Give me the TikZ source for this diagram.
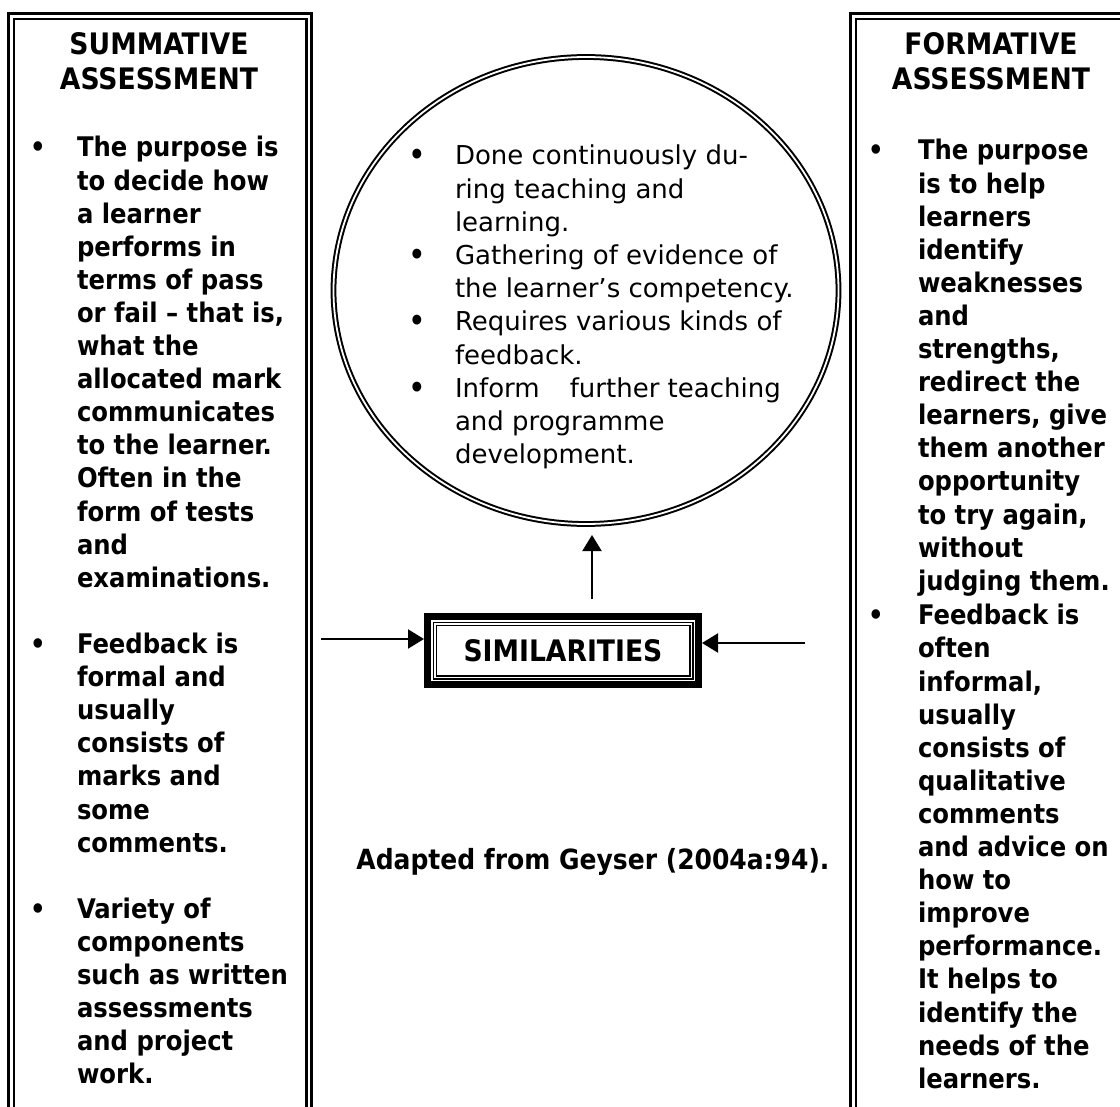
\documentclass[tikz,border=0pt]{standalone}
\usepackage{fontspec}
\setmainfont{DejaVu Sans}
\newfontfamily\bcond{DejaVu Sans Condensed Bold}
\usetikzlibrary{shapes.geometric,arrows.meta}
\newcommand\stack[1]{\vtop{#1}}
\newcommand\Ln[1]{\hbox{#1}}
\newcommand\cstack[1]{\vtop{\halign{\hfil##\hfil\cr#1}}}
\begin{document}
\begin{tikzpicture}[x=0.5pt,y=-0.5pt,
  boldtxt/.style={font=\bcond\fontsize{13.5pt}{16.55pt}\selectfont, inner sep=0pt, outer sep=0pt},
  captxt/.style={font=\bcond\fontsize{14.8pt}{17.5pt}\selectfont, inner sep=0pt, outer sep=0pt},
  regtxt/.style={font=\fontsize{13pt}{16.6pt}\selectfont, inner sep=0pt, outer sep=0pt},
  cbul/.style={font=\bcond\fontsize{14pt}{16.6pt}\selectfont, inner sep=0pt, outer sep=0pt},
  frame/.style={draw, line width=1.3pt, double, double distance=1.3pt},
  conn/.style={line width=1pt, -{Triangle[length=8pt,width=9.5pt]}},
]
\useasboundingbox (0,0) rectangle (1120,1107);
\clip (0,0) rectangle (1120,1107);
% frames
\draw[frame] (11.3,1140) -- (11.3,16.4) -- (309,16.4) -- (309,1140);
\draw[frame] (853.3,1140) -- (853.3,16.4) -- (1150,16.4) -- (1150,1140);
% titles
\node[captxt, anchor=base] (ltitle) at (159,55) {\cstack{SUMMATIVE\cr ASSESSMENT\cr}};
\node[captxt, anchor=base] (rtitle) at (991,55) {\cstack{FORMATIVE\cr ASSESSMENT\cr}};
% left column
\node[boldtxt, anchor=base] (lb1) at (38,157) {•};
\node[boldtxt, anchor=base west] (lt1) at (77,157) {\stack{\Ln{The purpose is}\Ln{to decide how}\Ln{a learner}\Ln{performs in}\Ln{terms of pass}\Ln{or fail – that is,}\Ln{what the}\Ln{allocated mark}\Ln{communicates}\Ln{to the learner.}\Ln{Often in the}\Ln{form of tests}\Ln{and}\Ln{examinations.}}};
\node[boldtxt, anchor=base] (lb2) at (38,653.5) {•};
\node[boldtxt, anchor=base west] (lt2) at (77,653.5) {\stack{\Ln{Feedback is}\Ln{formal and}\Ln{usually}\Ln{consists of}\Ln{marks and}\Ln{some}\Ln{comments.}}};
\node[boldtxt, anchor=base] (lb3) at (38,918.3) {•};
\node[boldtxt, anchor=base west] (lt3) at (77,918.3) {\stack{\Ln{Variety of}\Ln{components}\Ln{such as written}\Ln{assessments}\Ln{and project}\Ln{work.}}};
% right column
\node[boldtxt, anchor=base] (rb1) at (876,160) {•};
\node[boldtxt, anchor=base west] (rt1) at (918,160) {\stack{\Ln{The purpose}\Ln{is to help}\Ln{learners}\Ln{identify}\Ln{weaknesses}\Ln{and}\Ln{strengths,}\Ln{redirect the}\Ln{learners, give}\Ln{them another}\Ln{opportunity}\Ln{to try again,}\Ln{without}\Ln{judging them.}}};
\node[boldtxt, anchor=base] (rb2) at (876,624.8) {•};
\node[boldtxt, anchor=base west] (rt2) at (918,624.8) {\stack{\Ln{Feedback is}\Ln{often}\Ln{informal,}\Ln{usually}\Ln{consists of}\Ln{qualitative}\Ln{comments}\Ln{and advice on}\Ln{how to}\Ln{improve}\Ln{performance.}\Ln{It helps to}\Ln{identify the}\Ln{needs of the}\Ln{learners.}}};
% circle
\node[ellipse, draw, line width=1pt, double, double distance=0.9pt, minimum width=252.5pt, minimum height=233.5pt, inner sep=0pt, outer sep=0pt] (circ) at (586,290.5) {};
\node[cbul, anchor=base] (cb1) at (417,165) {•};
\node[regtxt, anchor=base west] (ct1) at (455,165) {\stack{\Ln{Done continuously du-}\Ln{ring teaching and}\Ln{learning.}}};
\node[cbul, anchor=base] (cb2) at (417,264.6) {•};
\node[regtxt, anchor=base west] (ct2) at (455,264.6) {\stack{\Ln{Gathering of evidence of}\Ln{the learner’s competency.}}};
\node[cbul, anchor=base] (cb3) at (417,331) {•};
\node[regtxt, anchor=base west] (ct3) at (455,331) {\stack{\Ln{Requires various kinds of}\Ln{feedback.}}};
\node[cbul, anchor=base] (cb4) at (417,397.4) {•};
\node[regtxt, anchor=base west] (ct4) at (455,397.4) {\stack{\Ln{Inform\hspace{15pt}further teaching}\Ln{and programme}\Ln{development.}}};
% similarities
\node[captxt, draw, line width=3.5pt, minimum width=135.5pt, minimum height=34pt, outer sep=1.75pt] (sim) at (563,650.5) {SIMILARITIES};
\draw[line width=0.75pt, double, double distance=0.75pt] (434.75,623.75) rectangle (691.25,677.25);
% connectors
\coordinate (lsrc) at (321,639);
\coordinate (rsrc) at (805,643);
\coordinate (usrc) at (592,599);
\draw[conn] (lsrc) -- (lsrc -| sim.west);
\draw[conn] (rsrc) -- (rsrc -| sim.east);
\draw[conn, shorten >=5.5pt] (usrc) -- (usrc |- circ.south);
% source
\node[boldtxt, font=\bcond\fontsize{13.9pt}{16.55pt}\selectfont, anchor=base] (src) at (593,869) {Adapted from Geyser (2004a:94).};
\end{tikzpicture}
\end{document}
